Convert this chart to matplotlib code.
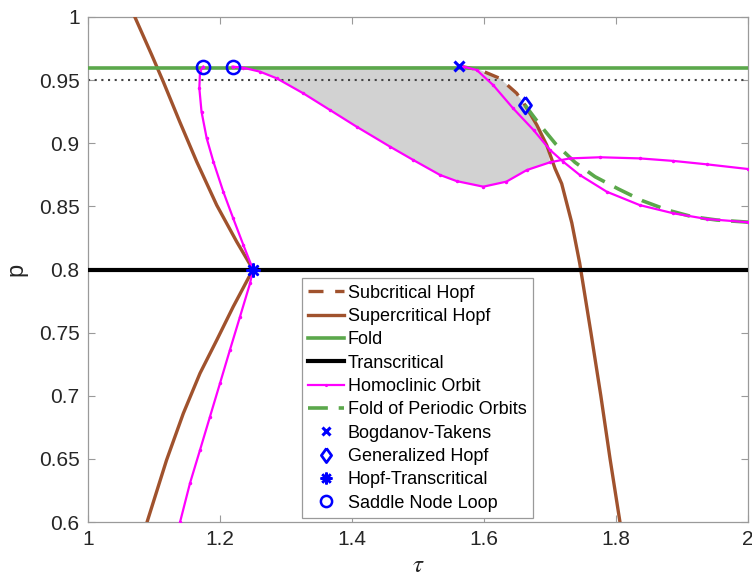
import matplotlib
matplotlib.use("Agg")
import matplotlib.pyplot as plt
import numpy as np

plt.rcParams['font.family'] = ['Liberation Sans', 'DejaVu Sans']
plt.rcParams['mathtext.fontset'] = 'stix'

# ---------------- data ----------------
fold_p = 0.96
transcritical_p = 0.80
ref_p = 0.95

# Supercritical Hopf, left branch (through the Hopf-transcritical point)
hopf_left_tau = [1.071, 1.0965, 1.114, 1.139, 1.1647, 1.195, 1.2253, 1.250,
                 1.2455, 1.220, 1.195, 1.1697, 1.1444, 1.119, 1.0895]
hopf_left_p = [1.000, 0.970, 0.9488, 0.917, 0.8854, 0.851, 0.822, 0.800,
               0.7956, 0.7705, 0.744, 0.7178, 0.686, 0.649, 0.600]

# Subcritical Hopf (BT -> GH)
hopf_sub_tau = [1.562, 1.594, 1.624, 1.6495, 1.662]
hopf_sub_p = [0.9612, 0.958, 0.9514, 0.9396, 0.9303]

# Supercritical Hopf, right branch (GH -> bottom)
hopf_right_tau = [1.662, 1.680, 1.695, 1.7076, 1.7177, 1.733, 1.745, 1.762,
                  1.777, 1.791, 1.806]
hopf_right_p = [0.9303, 0.9145, 0.8986, 0.880, 0.868, 0.837, 0.805, 0.750,
                0.700, 0.650, 0.600]

# Homoclinic orbits
hom1_tau = [1.1747, 1.1697, 1.1687, 1.172, 1.1798, 1.190, 1.205, 1.220, 1.2354,
            1.250, 1.2455, 1.2303, 1.215, 1.200, 1.1848, 1.1697, 1.1545, 1.1395]
hom1_p = [0.9607, 0.9567, 0.9435, 0.925, 0.904, 0.8854, 0.8616, 0.8405, 0.8194,
          0.800, 0.789, 0.7626, 0.7362, 0.7099, 0.6834, 0.657, 0.6307, 0.600]

hom2_tau = [1.219, 1.2354, 1.2606, 1.286, 1.326, 1.3667, 1.407, 1.4576, 1.4929,
            1.5333, 1.5586, 1.599, 1.634, 1.665, 1.700, 1.730, 1.776, 1.836,
            1.887, 1.9375, 2.000]
hom2_p = [0.9607, 0.9598, 0.9567, 0.9514, 0.9396, 0.9263, 0.9131, 0.8973, 0.8867,
          0.8749, 0.870, 0.8656, 0.8696, 0.8788, 0.8849, 0.888, 0.8889, 0.888,
          0.886, 0.8833, 0.8796]

hom3_tau = [1.562, 1.5687, 1.589, 1.614, 1.644, 1.675, 1.700, 1.720, 1.745,
            1.786, 1.836, 1.887, 1.9375, 2.000]
hom3_p = [0.9612, 0.9607, 0.958, 0.946, 0.9277, 0.9105, 0.8947, 0.8854, 0.8749,
          0.8616, 0.851, 0.8445, 0.840, 0.8374]

# Fold of periodic orbits
fpo_tau = [1.662, 1.6848, 1.7086, 1.7379, 1.7682, 1.8035, 1.8399, 1.8778,
           1.9156, 1.9525, 2.000]
fpo_p = [0.9303, 0.9145, 0.8994, 0.8849, 0.8735, 0.8638, 0.8545, 0.8471,
         0.8418, 0.8392, 0.8375]

# Special points
bt_tau, bt_p = [1.562], [0.9612]
gh_tau, gh_p = [1.662], [0.9303]
ht_tau, ht_p = [1.250], [0.800]
snl_tau, snl_p = [1.1747, 1.219], [0.9607, 0.9607]

x_ticks = [1, 1.2, 1.4, 1.6, 1.8, 2]
x_labels = ['1', '1.2', '1.4', '1.6', '1.8', '2']
y_ticks = [0.6, 0.65, 0.7, 0.75, 0.8, 0.85, 0.9, 0.95, 1.0]
y_labels = ['0.6', '0.65', '0.7', '0.75', '0.8', '0.85', '0.9', '0.95', '1']

labels = ['Subcritical Hopf', 'Supercritical Hopf', 'Fold', 'Transcritical',
          'Homoclinic Orbit', 'Fold of Periodic Orbits', 'Bogdanov-Takens',
          'Generalized Hopf', 'Hopf-Transcritical', 'Saddle Node Loop']

# ---------------- styles ----------------
brown = '#A0522D'
green = '#5BA84B'
magenta = '#FF00FF'
blue = '#0000FF'
gray_fill = '#D2D2D2'
axis_gray = '#9A9A9A'
text_col = '#262626'
diamond = [(0, 1), (0.72, 0), (0, -1), (-0.72, 0), (0, 1)]

fig = plt.figure(figsize=(7.52, 5.81), dpi=100)
ax = fig.add_axes([88 / 752, 1 - 522 / 581, 660 / 752, 505 / 581])

# shaded region
fill_tau = np.concatenate([hopf_sub_tau, hopf_right_tau[1:3], hom2_tau[:15][::-1]])
fill_p = np.concatenate([hopf_sub_p, hopf_right_p[1:3], hom2_p[:15][::-1]])
ax.fill(fill_tau, fill_p, color=gray_fill, lw=0, zorder=1)

ax.axhline(ref_p, color='#444444', ls=(0, (1, 2.2)), lw=1.5, zorder=2)

h_sub, = ax.plot(hopf_sub_tau, hopf_sub_p, color=brown, lw=2.4,
                 ls=(0, (4.5, 3.5)), zorder=3)
h_sup, = ax.plot(hopf_left_tau, hopf_left_p, color=brown, lw=2.4, zorder=3)
ax.plot(hopf_right_tau, hopf_right_p, color=brown, lw=2.4, zorder=3)
h_fold = ax.axhline(fold_p, color=green, lw=2.6, zorder=4)
h_tc = ax.axhline(transcritical_p, color='black', lw=3.0, zorder=4)

hom_kw = dict(color=magenta, lw=1.6, marker='.', ms=3.0, zorder=5)
h_hom, = ax.plot(hom1_tau, hom1_p, **hom_kw)
ax.plot(hom2_tau, hom2_p, **hom_kw)
ax.plot(hom3_tau, hom3_p, **hom_kw)

h_fpo, = ax.plot(fpo_tau, fpo_p, color=green, lw=2.6, ls=(0, (5.5, 3.0)), zorder=4)

h_bt, = ax.plot(bt_tau, bt_p, ls='none', marker='x', ms=7, mew=2.2, color=blue, zorder=7)
h_gh, = ax.plot(gh_tau, gh_p, ls='none', marker=diamond, ms=12, mew=2.0, mfc='none',
                mec=blue, zorder=7)
h_ht, = ax.plot(ht_tau, ht_p, ls='none', marker=(8, 2, 0), ms=10, mew=1.8,
                color=blue, zorder=7)
h_snl, = ax.plot(snl_tau, snl_p, ls='none', marker='o', ms=9.5, mew=1.8, mfc='none',
                 mec=blue, zorder=7)

ax.set_xlim(1, 2)
ax.set_ylim(0.6, 1.0)
ax.set_xticks(x_ticks)
ax.set_xticklabels(x_labels)
ax.set_yticks(y_ticks)
ax.set_yticklabels(y_labels)
ax.tick_params(direction='in', length=5, width=0.8, color=axis_gray,
               labelsize=15, labelcolor=text_col, top=True, right=True, pad=6)
for s in ax.spines.values():
    s.set_color(axis_gray)
    s.set_linewidth(0.9)

ax.set_xlabel(r'$\tau$', fontsize=18, color=text_col, labelpad=3)
ax.set_ylabel('p', fontsize=17, color=text_col, labelpad=8)

handles = [h_sub, h_sup, h_fold, h_tc, h_hom, h_fpo, h_bt, h_gh, h_ht, h_snl]
leg = ax.legend(handles, labels, loc='lower left', bbox_to_anchor=(0.324, 0.008),
                borderaxespad=0, fontsize=13, fancybox=False, framealpha=1,
                edgecolor=axis_gray, handlelength=2.0, handletextpad=0.2,
                labelspacing=0.35, borderpad=0.35, markerscale=0.85)
leg.get_frame().set_linewidth(0.9)
leg.set_zorder(10)

fig.savefig('out.png', dpi=100)
